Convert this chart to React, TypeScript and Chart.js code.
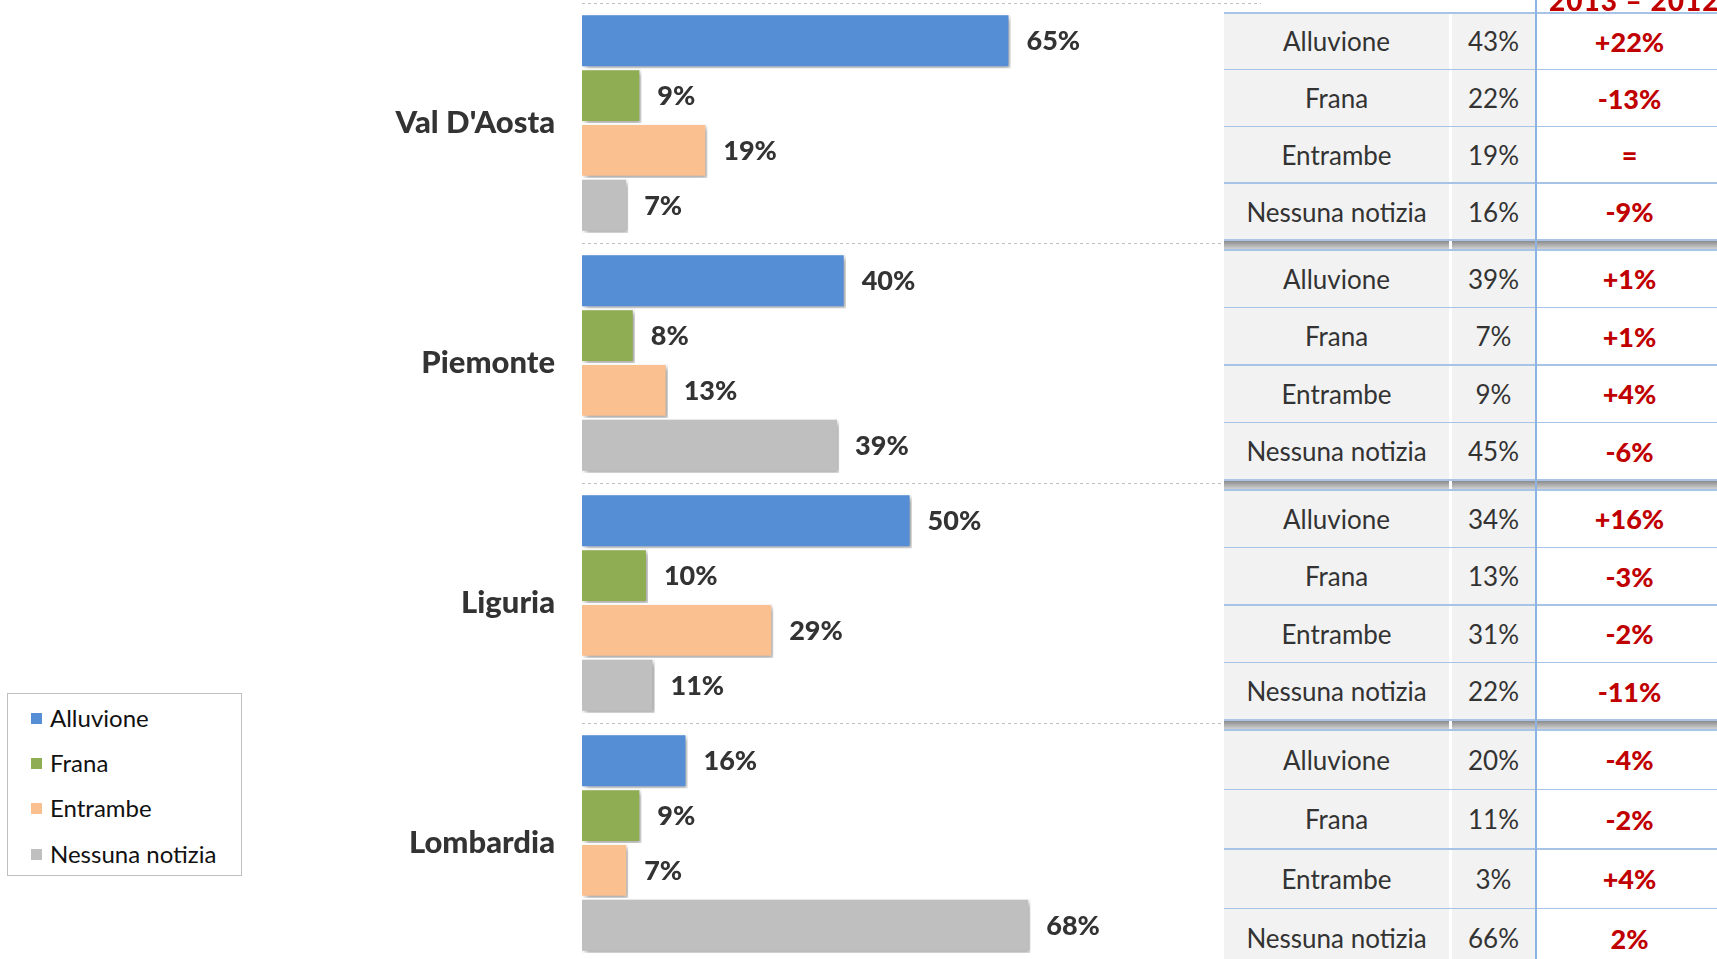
import React, { useEffect, useRef } from "react";
import { Chart, registerables } from "chart.js";

Chart.register(...registerables);

const categories = ["Val D'Aosta", "Piemonte", "Liguria", "Lombardia"];
const seriesNames = ["Alluvione", "Frana", "Entrambe", "Nessuna notizia"];
const alluvione = [65, 40, 50, 16];
const frana = [9, 8, 10, 9];
const entrambe = [19, 13, 29, 7];
const nessunaNotizia = [7, 39, 11, 68];
const seriesColors = ["#558ED5", "#8FAD53", "#FAC090", "#BFBFBF"];

const tableValues = [
  ["43%", "22%", "19%", "16%"],
  ["39%", "7%", "9%", "45%"],
  ["34%", "13%", "31%", "22%"],
  ["20%", "11%", "3%", "66%"],
];
const tableChanges = [
  ["+22%", "-13%", "=", "-9%"],
  ["+1%", "+1%", "+4%", "-6%"],
  ["+16%", "-3%", "-2%", "-11%"],
  ["-4%", "-2%", "+4%", "2%"],
];
const headerLabel = "2013 – 2012";

const groupTops = [13, 250, 490, 730];
const rowHeights = [56.75, 57.5, 57.5, 59.5];

const shadowPlugin = {
  id: "barShadow",
  beforeDatasetsDraw(chart: any) {
    const c = chart.ctx;
    c.save();
    c.shadowColor = "rgba(0,0,0,0.35)";
    c.shadowBlur = 5;
    c.shadowOffsetX = 3;
    c.shadowOffsetY = 3;
  },
  afterDatasetsDraw(chart: any) {
    chart.ctx.restore();
  },
};

const labelPlugin = {
  id: "valueLabels",
  afterDraw(chart: any) {
    const ctx = chart.ctx;
    ctx.save();
    ctx.font = "900 27px Lato";
    ctx.fillStyle = "#333333";
    ctx.textAlign = "left";
    ctx.textBaseline = "middle";
    chart.data.datasets.forEach((ds: any, i: number) => {
      const meta = chart.getDatasetMeta(i);
      meta.data.forEach((bar: any, j: number) => {
        ctx.fillText(ds.data[j] + "%", bar.x + 16, bar.y + 1);
      });
    });
    ctx.restore();
  },
};

function ChartCanvas() {
  const ref = useRef<HTMLCanvasElement>(null);
  useEffect(() => {
    if (!ref.current) return;
    const seriesData = [alluvione, frana, entrambe, nessunaNotizia];
    const chart = new Chart(ref.current, {
      type: "bar",
      data: {
        labels: categories,
        datasets: seriesNames.map((name, i) => ({
          label: name,
          data: seriesData[i],
          backgroundColor: seriesColors[i],
          borderColor: "#FFFFFF",
          borderWidth: 2,
          categoryPercentage: 0.914,
          barPercentage: 1,
        })),
      },
      options: {
        indexAxis: "y",
        responsive: false,
        animation: false,
        layout: { padding: { left: 0, right: 456, top: 3, bottom: 12 } },
        plugins: { legend: { display: false }, tooltip: { enabled: false } },
        scales: {
          x: { display: false, min: 0, max: 103 },
          y: {
            afterFit: (s: any) => {
              s.width = 582;
              s.paddingTop = 0;
              s.paddingBottom = 0;
            },
            grid: { color: "#BFBFBF", lineWidth: 1, drawTicks: false },
            border: { display: false, dash: [3, 3] },
            ticks: {
              padding: 27,
              color: "#333333",
              font: { family: "Lato", weight: "900", size: 31 },
            },
          },
        },
      } as any,
      plugins: [shadowPlugin, labelPlugin],
    });
    return () => chart.destroy();
  }, []);
  return (
    <canvas
      ref={ref}
      width={1717}
      height={975}
      style={{ position: "absolute", left: 0, top: 0, width: 1717, height: 975 }}
    />
  );
}

function Legend() {
  const rowsY = [718, 763, 808, 854];
  return (
    <div
      style={{
        position: "absolute",
        left: 7,
        top: 693,
        width: 233,
        height: 181,
        border: "1px solid #BFBFBF",
        background: "#fff",
      }}
    >
      {seriesNames.map((n, i) => (
        <div key={n}>
          <div
            style={{
              position: "absolute",
              left: 23,
              top: rowsY[i] - 693 - 6,
              width: 11,
              height: 11,
              background: seriesColors[i],
            }}
          />
          <div
            style={{
              position: "absolute",
              left: 42,
              top: rowsY[i] - 693 - 16,
              height: 32,
              lineHeight: "32px",
              font: "24px Lato",
              color: "#111",
              whiteSpace: "nowrap",
            }}
          >
            {n}
          </div>
        </div>
      ))}
    </div>
  );
}

function Table() {
  const cells: any[] = [];
  const textStyle = {
    position: "absolute" as const,
    display: "flex",
    alignItems: "center",
    justifyContent: "center",
    whiteSpace: "nowrap" as const,
  };
  groupTops.forEach((gt, g) => {
    const h = rowHeights[g];
    seriesNames.forEach((name, r) => {
      const top = gt + r * h;
      cells.push(
        <div key={`a${g}${r}`} style={{ ...textStyle, left: 1224, top, width: 225, height: h, background: "#F2F2F2", font: "26px Lato", color: "#333" }}>
          {name}
        </div>,
        <div key={`b${g}${r}`} style={{ ...textStyle, left: 1452, top, width: 83, height: h, background: "#F2F2F2", font: "26px Lato", color: "#333" }}>
          {tableValues[g][r]}
        </div>,
        <div key={`c${g}${r}`} style={{ ...textStyle, left: 1537, top, width: 185, height: h, background: "#FFFFFF", font: "900 27px Lato", color: "#C00000" }}>
          {tableChanges[g][r]}
        </div>,
        <div key={`l${g}${r}`} style={{ position: "absolute", left: 1224, top: top - 1, width: 500, height: 1.5, background: "#A7C4E6" }} />
      );
    });
    const bottom = gt + 4 * h;
    cells.push(
      <div key={`lb${g}`} style={{ position: "absolute", left: 1224, top: bottom - 1, width: 500, height: 1.5, background: "#A7C4E6" }} />
    );
    if (g < 3) {
      cells.push(
        <div
          key={`s${g}`}
          style={{
            position: "absolute",
            left: 1224,
            top: bottom + 1,
            width: 500,
            height: groupTops[g + 1] - bottom - 2,
            background: "linear-gradient(to bottom, #8C8C8C, #D0D0D0)",
          }}
        />,
        <div key={`sw${g}`} style={{ position: "absolute", left: 1449, top: bottom + 1, width: 3, height: groupTops[g + 1] - bottom - 2, background: "#fff" }} />
      );
    }
  });
  return (
    <>
      {cells}
      <div style={{ position: "absolute", left: 1535, top: 0, width: 2, height: 959, background: "#8DB3E2" }} />
      <div
        style={{
          position: "absolute",
          left: 1549,
          top: -17,
          height: 28,
          lineHeight: "28px",
          font: "900 28px Lato",
          color: "#C00000",
          whiteSpace: "nowrap",
          letterSpacing: "1px",
        }}
      >
        {headerLabel}
      </div>
    </>
  );
}

export default function App() {
  return (
    <div
      style={{
        position: "fixed",
        left: 0,
        top: 0,
        width: 1717,
        height: 959,
        overflow: "hidden",
        background: "#FFFFFF",
      }}
    >
      <ChartCanvas />
      <Table />
      <Legend />
    </div>
  );
}
